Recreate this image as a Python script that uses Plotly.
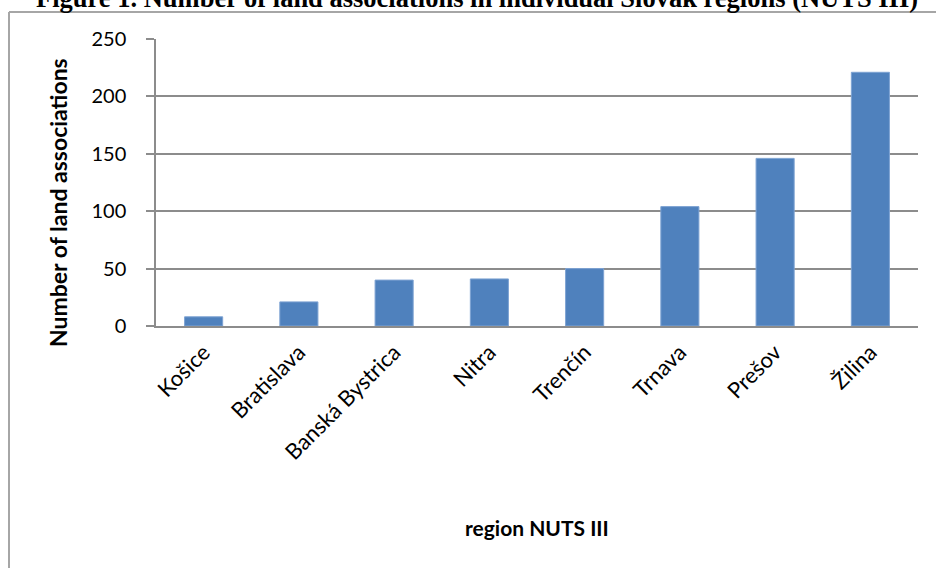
import plotly.graph_objects as go

# Land associations per NUTS III region of Slovakia
regions = ["Košice", "Bratislava", "Banská Bystrica", "Nitra",
           "Trenčín", "Trnava", "Prešov", "Žilina"]
associations = [8, 21, 40, 41, 50, 104, 146, 221]
y_ticks = [0, 50, 100, 150, 200, 250]

W, H = 936, 568
ML, MR, MT, MB = 156, 18, 39, 242
PW, PH = W - ML - MR, H - MT - MB


def px_x(px):
    return (px - ML) / PW


def px_y(py):
    return 1 - (py - MT) / PH


BAR_BLUE = "#4F81BD"
GRID = "#8c8c8c"
FONT = "Lato"

fig = go.Figure(
    go.Bar(
        x=regions,
        y=associations,
        marker=dict(color=BAR_BLUE, line=dict(color="#7ea3d3", width=1)),
        width=0.4,
    )
)

fig.update_layout(
    width=W,
    height=H,
    margin=dict(l=ML, r=MR, t=MT, b=MB, pad=0),
    paper_bgcolor="white",
    plot_bgcolor="white",
    showlegend=False,
    font=dict(family=FONT, color="#000000"),
)

fig.update_yaxes(
    range=[0, 250],
    tickvals=y_ticks,
    ticktext=[str(v) for v in y_ticks],
    showgrid=True,
    gridcolor=GRID,
    gridwidth=1.5,
    zeroline=False,
    showline=True,
    linecolor=GRID,
    linewidth=1.5,
    ticks="outside",
    ticklen=8,
    tickcolor=GRID,
    tickwidth=1.5,
    ticklabelstandoff=16,
    tickfont=dict(family=FONT, size=20, color="#000000"),
)

fig.update_xaxes(
    showline=True,
    linecolor=GRID,
    linewidth=1.5,
    ticks="",
    tickangle=-45,
    ticklabelstandoff=3,
    tickfont=dict(family=FONT, size=22, color="#000000"),
)

# Axis titles
fig.add_annotation(
    text="<b>Number of land associations</b>",
    xref="paper", yref="paper",
    x=px_x(58), y=px_y(202),
    xanchor="center", yanchor="middle", textangle=-90,
    showarrow=False,
    font=dict(family=FONT, size=23, color="#000000"),
)
fig.add_annotation(
    text="<b>region NUTS III</b>",
    xref="paper", yref="paper",
    x=px_x(537), y=px_y(527),
    xanchor="center", yanchor="middle",
    showarrow=False,
    font=dict(family=FONT, size=21, color="#000000"),
)

# Figure caption above the chart frame
fig.add_annotation(
    text="<b>Figure 1. Number of land associations in individual Slovak regions (NUTS III)</b>",
    xref="paper", yref="paper",
    x=px_x(477), y=px_y(-2),
    xanchor="center", yanchor="middle",
    showarrow=False,
    font=dict(family="Liberation Serif", size=26.5, color="#000000"),
)

# Chart frame: top and left edges (right and bottom run off the page)
frame = dict(color="#a6a6a6", width=2)
fig.add_shape(type="line", xref="paper", yref="paper",
              x0=px_x(9), x1=px_x(W + 5), y0=px_y(12), y1=px_y(12), line=frame)
fig.add_shape(type="line", xref="paper", yref="paper",
              x0=px_x(9), x1=px_x(9), y0=px_y(12), y1=px_y(H + 5), line=frame)

fig.write_html("out.html")
